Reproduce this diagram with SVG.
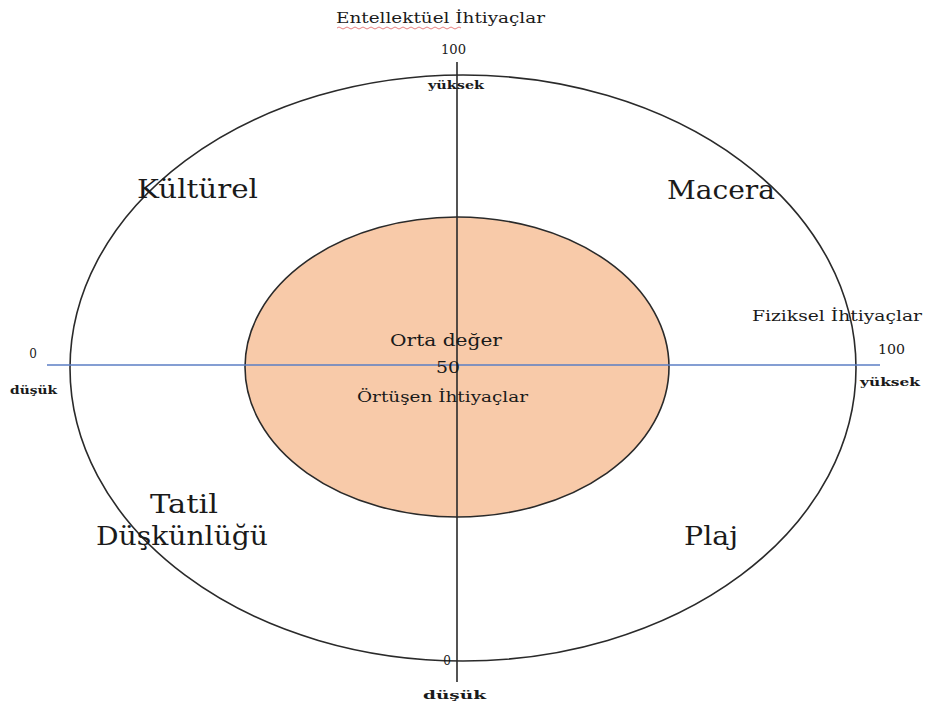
<svg xmlns="http://www.w3.org/2000/svg" width="927" height="708" viewBox="0 0 927 708">
<style>
text{font-family:"DejaVu Serif","Liberation Serif",serif;fill:#1a1a1a}
.big{font-size:26px}
.mid{font-size:15px}
.sm{font-size:12px}
.b{font-weight:bold;font-size:11px}
.ax{stroke:#2a2a2a;stroke-width:1.6;fill:none}
</style>
<rect width="927" height="708" fill="#fff"/>
<g id="outer"><ellipse cx="463" cy="368" rx="393" ry="293" class="ax"/></g>
<g id="inner"><ellipse cx="457" cy="367" rx="212" ry="150" fill="#f8caa9" stroke="#2a2a2a" stroke-width="1.6"/></g>
<g id="connectors">
<line x1="47" y1="365" x2="880" y2="365" stroke="#5b7ec4" stroke-width="1.5"/>
<line x1="457" y1="62" x2="457" y2="682" stroke="#2a2a2a" stroke-width="1.6"/>
</g>
<g id="labels">
<text x="336" y="23" class="mid" textLength="209" lengthAdjust="spacingAndGlyphs">Entellektüel İhtiyaçlar</text>
<path d="M337 28 q2 -2 4 0 t4 0 t4 0 t4 0 t4 0 t4 0 t4 0 t4 0 t4 0 t4 0 t4 0 t4 0 t4 0 t4 0 t4 0 t4 0 t4 0 t4 0 t4 0 t4 0 t4 0 t4 0 t4 0 t4 0 t4 0 t4 0 t4 0 t4 0 t4 0 t4 0 t4 0" fill="none" stroke="#e06060" stroke-width="0.8"/>
<text x="441" y="54" class="sm" textLength="25" lengthAdjust="spacingAndGlyphs">100</text>
<text x="428" y="89" class="b" textLength="56" lengthAdjust="spacingAndGlyphs">yüksek</text>
<text x="137" y="198" class="big" textLength="121" lengthAdjust="spacingAndGlyphs">Kültürel</text>
<text x="667" y="199" class="big" textLength="108" lengthAdjust="spacingAndGlyphs">Macera</text>
<text x="752" y="321" class="mid" textLength="170" lengthAdjust="spacingAndGlyphs">Fiziksel İhtiyaçlar</text>
<text x="878" y="354" class="sm" textLength="27" lengthAdjust="spacingAndGlyphs">100</text>
<text x="860" y="386" class="b" textLength="60" lengthAdjust="spacingAndGlyphs">yüksek</text>
<text x="33" y="358" class="sm" text-anchor="middle">0</text>
<text x="10" y="394" class="b" textLength="47" lengthAdjust="spacingAndGlyphs">düşük</text>
<text x="390" y="346" font-size="17" textLength="112" lengthAdjust="spacingAndGlyphs">Orta değer</text>
<text x="436" y="373" font-size="17" textLength="24" lengthAdjust="spacingAndGlyphs">50</text>
<text x="357" y="402" font-size="15" textLength="171" lengthAdjust="spacingAndGlyphs">Örtüşen İhtiyaçlar</text>
<text x="150" y="513" class="big" textLength="68" lengthAdjust="spacingAndGlyphs">Tatil</text>
<text x="96" y="545" class="big" textLength="172" lengthAdjust="spacingAndGlyphs">Düşkünlüğü</text>
<text x="684" y="545" class="big" textLength="54" lengthAdjust="spacingAndGlyphs">Plaj</text>
<text x="447" y="665" class="sm" text-anchor="middle">0</text>
<text x="423" y="699" class="b" textLength="63" lengthAdjust="spacingAndGlyphs">düşük</text>
</g>
</svg>
